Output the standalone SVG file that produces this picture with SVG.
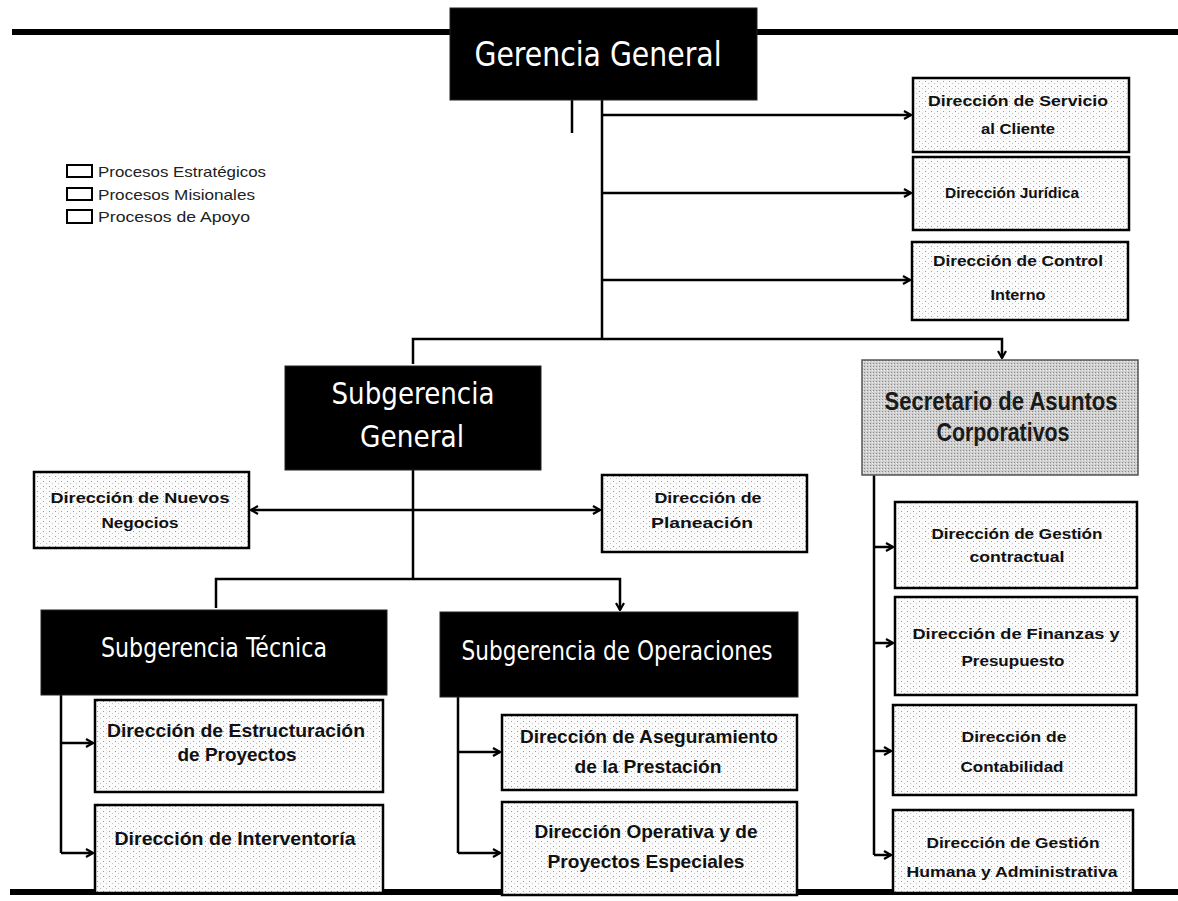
<svg xmlns="http://www.w3.org/2000/svg" width="1178" height="901" viewBox="0 0 1178 901">
<defs>
<pattern id="dots" width="6" height="5" patternUnits="userSpaceOnUse">
<rect width="6" height="5" fill="#fbfbfb"/>
<rect x="1" y="1" width="1" height="1" fill="#9a9a9a"/>
<rect x="4" y="3" width="1" height="1" fill="#c4c4c4"/>
</pattern>
<pattern id="grey" width="3" height="3" patternUnits="userSpaceOnUse">
<rect width="3" height="3" fill="#cfcfcf"/>
<rect x="0" y="0" width="1" height="1" fill="#8a8a8a"/>
<rect x="2" y="1" width="1" height="1" fill="#eeeeee"/>
</pattern>
<marker id="ah" viewBox="0 0 10 10" refX="9" refY="5" markerWidth="10" markerHeight="10" markerUnits="userSpaceOnUse" orient="auto">
<path d="M2,1 L9,5 L2,9" fill="none" stroke="#000" stroke-width="2.2"/>
</marker>
</defs>
<style>
.dark{fill:#000;stroke:#222;stroke-width:1}
.box{fill:url(#dots);stroke:#000;stroke-width:2.5}
.con{fill:none;stroke:#000;stroke-width:2.5}
.arr{fill:none;stroke:#000;stroke-width:2.5;marker-end:url(#ah)}
.rule{stroke:#000;stroke-width:6}
.wt{fill:#fff;font-family:"Liberation Sans Narrow","DejaVu Sans Condensed","Liberation Sans",sans-serif;text-anchor:middle}
.bt{fill:#111;font-family:"Liberation Sans","Liberation Sans Narrow",Arial,sans-serif;font-weight:bold;text-anchor:middle}
.nt{fill:#111;font-family:"Liberation Sans Narrow","Liberation Sans",Arial,sans-serif;font-weight:bold;text-anchor:middle}
.lg{fill:#222;font-family:"Liberation Sans",Arial,sans-serif;font-size:15px}
.st{fill:#1a1a1a;font-family:"Liberation Sans Narrow","Liberation Sans",sans-serif;font-weight:bold;text-anchor:middle;font-size:26px}
</style>
<rect width="1178" height="901" fill="#fff"/>
<g id="rules">
<line class="rule" x1="12" y1="32" x2="450" y2="32"/>
<line class="rule" x1="757" y1="32" x2="1178" y2="32"/>
<line class="rule" x1="10" y1="892" x2="1178" y2="892"/>
</g>
<g id="legend">
<rect x="67" y="165" width="25" height="12" fill="#fff" stroke="#000" stroke-width="2"/>
<rect x="67" y="188" width="25" height="12" fill="#fff" stroke="#000" stroke-width="2"/>
<rect x="67" y="210" width="25" height="13" fill="#fff" stroke="#000" stroke-width="2"/>
<text class="lg" x="98" y="177" textLength="168" lengthAdjust="spacingAndGlyphs">Procesos Estratégicos</text>
<text class="lg" x="98" y="200" textLength="157" lengthAdjust="spacingAndGlyphs">Procesos Misionales</text>
<text class="lg" x="98" y="222" textLength="152" lengthAdjust="spacingAndGlyphs">Procesos de Apoyo</text>
</g>
<g id="connectors">
<line class="con" x1="572" y1="100" x2="572" y2="133"/>
<line class="con" x1="602" y1="100" x2="602" y2="339"/>
<line class="arr" x1="602" y1="115" x2="911" y2="115"/>
<line class="arr" x1="602" y1="193" x2="911" y2="193"/>
<line class="arr" x1="602" y1="280" x2="910" y2="280"/>
<polyline class="arr" points="413,364 413,339 1002,339 1002,358"/>
<line class="con" x1="413" y1="470" x2="413" y2="579"/>
<line class="arr" x1="413" y1="510" x2="251" y2="510"/>
<line class="arr" x1="413" y1="510" x2="600" y2="510"/>
<polyline class="arr" points="216,608 216,579 620,579 620,610"/>
<line class="con" x1="61" y1="695" x2="61" y2="853"/>
<line class="arr" x1="61" y1="743" x2="93" y2="743"/>
<line class="arr" x1="61" y1="853" x2="93" y2="853"/>
<line class="con" x1="458" y1="697" x2="458" y2="853"/>
<line class="arr" x1="458" y1="752" x2="500" y2="752"/>
<line class="arr" x1="458" y1="853" x2="500" y2="853"/>
<line class="con" x1="874" y1="475" x2="874" y2="855"/>
<line class="arr" x1="874" y1="547" x2="893" y2="547"/>
<line class="arr" x1="874" y1="643" x2="893" y2="643"/>
<line class="arr" x1="874" y1="751" x2="891" y2="751"/>
<line class="arr" x1="874" y1="855" x2="891" y2="855"/>
</g>
<g id="gerencia-general">
<rect class="dark" x="450" y="8" width="307" height="92"/>
<text class="wt" x="598" y="66" font-size="34" textLength="247" lengthAdjust="spacingAndGlyphs">Gerencia General</text>
</g>
<g id="dir-servicio">
<rect class="box" x="913" y="78" width="216" height="74"/>
<text class="bt" x="1018" y="106" font-size="15" textLength="180" lengthAdjust="spacingAndGlyphs">Dirección de Servicio</text>
<text class="bt" x="1018" y="134" font-size="15" textLength="74" lengthAdjust="spacingAndGlyphs">al Cliente</text>
</g>
<g id="dir-juridica">
<rect class="box" x="913" y="157" width="216" height="73"/>
<text class="bt" x="1012" y="198" font-size="15" textLength="134" lengthAdjust="spacingAndGlyphs">Dirección Jurídica</text>
</g>
<g id="dir-control">
<rect class="box" x="912" y="242" width="216" height="78"/>
<text class="bt" x="1018" y="266" font-size="15" textLength="170" lengthAdjust="spacingAndGlyphs">Dirección de Control</text>
<text class="bt" x="1018" y="300" font-size="15" textLength="55" lengthAdjust="spacingAndGlyphs">Interno</text>
</g>
<g id="subgerencia-general">
<rect class="dark" x="285" y="366" width="256" height="104"/>
<text class="wt" x="413" y="404" font-size="30" textLength="163" lengthAdjust="spacingAndGlyphs">Subgerencia</text>
<text class="wt" x="412" y="447" font-size="30" textLength="104" lengthAdjust="spacingAndGlyphs">General</text>
</g>
<g id="secretario">
<rect x="862" y="360" width="276" height="115" fill="url(#grey)" stroke="#555" stroke-width="1.5"/>
<text class="st" x="1001" y="410" textLength="233" lengthAdjust="spacingAndGlyphs">Secretario de Asuntos</text>
<text class="st" x="1003" y="441" textLength="133" lengthAdjust="spacingAndGlyphs">Corporativos</text>
</g>
<g id="dir-nuevos-negocios">
<rect class="box" x="34" y="472" width="215" height="76"/>
<text class="bt" x="140" y="503" font-size="15" textLength="179" lengthAdjust="spacingAndGlyphs">Dirección de Nuevos</text>
<text class="bt" x="140" y="528" font-size="15" textLength="77" lengthAdjust="spacingAndGlyphs">Negocios</text>
</g>
<g id="dir-planeacion">
<rect class="box" x="602" y="475" width="205" height="77"/>
<text class="bt" x="708" y="503" font-size="15" textLength="107" lengthAdjust="spacingAndGlyphs">Dirección de</text>
<text class="bt" x="702" y="528" font-size="15" textLength="102" lengthAdjust="spacingAndGlyphs">Planeación</text>
</g>
<g id="subgerencia-tecnica">
<rect class="dark" x="41" y="610" width="346" height="85"/>
<text class="wt" x="214" y="657" font-size="27" textLength="226" lengthAdjust="spacingAndGlyphs">Subgerencia Técnica</text>
</g>
<g id="subgerencia-operaciones">
<rect class="dark" x="440" y="612" width="358" height="85"/>
<text class="wt" x="617" y="660" font-size="27" textLength="311" lengthAdjust="spacingAndGlyphs">Subgerencia de Operaciones</text>
</g>
<g id="dir-estructuracion">
<rect class="box" x="95" y="700" width="288" height="92"/>
<text class="nt" x="236" y="737" font-size="19" textLength="258" lengthAdjust="spacingAndGlyphs">Dirección  de Estructuración</text>
<text class="nt" x="237" y="761" font-size="19" textLength="119" lengthAdjust="spacingAndGlyphs">de Proyectos</text>
</g>
<g id="dir-interventoria">
<rect class="box" x="95" y="805" width="288" height="88"/>
<text class="nt" x="235" y="845" font-size="19" textLength="241" lengthAdjust="spacingAndGlyphs">Dirección  de Interventoría</text>
</g>
<g id="dir-aseguramiento">
<rect class="box" x="502" y="715" width="295" height="75"/>
<text class="nt" x="649" y="743" font-size="19" textLength="258" lengthAdjust="spacingAndGlyphs">Dirección  de Aseguramiento</text>
<text class="nt" x="648" y="773" font-size="19" textLength="147" lengthAdjust="spacingAndGlyphs">de la Prestación</text>
</g>
<g id="dir-operativa">
<rect class="box" x="502" y="802" width="295" height="93"/>
<text class="nt" x="646" y="838" font-size="19" textLength="223" lengthAdjust="spacingAndGlyphs">Dirección  Operativa y de</text>
<text class="nt" x="646" y="868" font-size="19" textLength="197" lengthAdjust="spacingAndGlyphs">Proyectos  Especiales</text>
</g>
<g id="dir-gestion-contractual">
<rect class="box" x="895" y="502" width="242" height="86"/>
<text class="bt" x="1017" y="539" font-size="15" textLength="171" lengthAdjust="spacingAndGlyphs">Dirección de Gestión</text>
<text class="bt" x="1017" y="562" font-size="15" textLength="95" lengthAdjust="spacingAndGlyphs">contractual</text>
</g>
<g id="dir-finanzas">
<rect class="box" x="895" y="597" width="242" height="98"/>
<text class="bt" x="1016" y="639" font-size="15" textLength="207" lengthAdjust="spacingAndGlyphs">Dirección de Finanzas y</text>
<text class="bt" x="1013" y="666" font-size="15" textLength="103" lengthAdjust="spacingAndGlyphs">Presupuesto</text>
</g>
<g id="dir-contabilidad">
<rect class="box" x="893" y="705" width="243" height="90"/>
<text class="bt" x="1014" y="742" font-size="15" textLength="105" lengthAdjust="spacingAndGlyphs">Dirección de</text>
<text class="bt" x="1012" y="772" font-size="15" textLength="103" lengthAdjust="spacingAndGlyphs">Contabilidad</text>
</g>
<g id="dir-gestion-humana">
<rect class="box" x="893" y="810" width="240" height="83"/>
<text class="bt" x="1013" y="848" font-size="15" textLength="173" lengthAdjust="spacingAndGlyphs">Dirección de Gestión</text>
<text class="bt" x="1012" y="877" font-size="15" textLength="211" lengthAdjust="spacingAndGlyphs">Humana y Administrativa</text>
</g>
</svg>
